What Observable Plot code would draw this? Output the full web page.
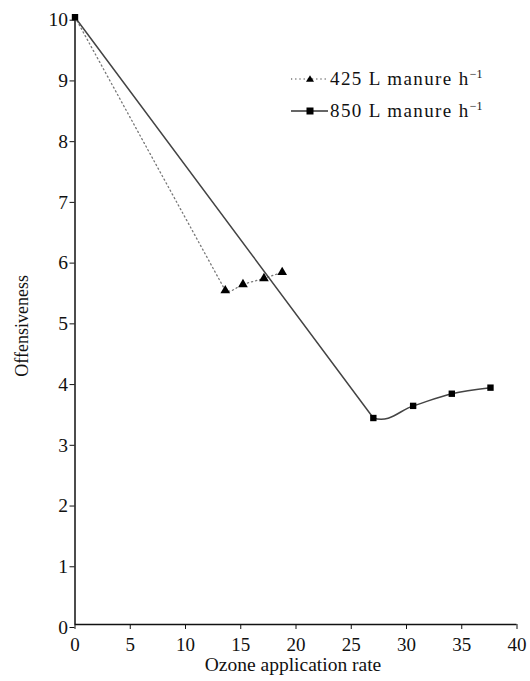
<!DOCTYPE html>
<html>
<head>
<meta charset="utf-8">
<script src="https://cdn.jsdelivr.net/npm/d3@7"></script>
<script src="https://cdn.jsdelivr.net/npm/@observablehq/plot@0.6"></script>
<style>
  html, body { margin: 0; padding: 0; background: #fff; }
  #wrap { position: relative; width: 530px; height: 681px; font-family: "Liberation Serif", "Times New Roman", serif; }
  .leg { position: absolute; left: 289px; font-size: 19px; letter-spacing: 1.4px; color: #111; display: flex; align-items: center; white-space: nowrap; }
  .leg sup { font-size: 12px; vertical-align: 7px; letter-spacing: 0; }
</style>
</head>
<body>
<div id="wrap"></div>
<script>
// Data
const rate425 = [0, 13.6, 15.2, 17.1, 18.75];
const off425  = [10, 5.5, 5.6, 5.7, 5.8];
const rate850 = [0, 27.0, 30.6, 34.1, 37.6];
const off850  = [10, 3.4, 3.6, 3.8, 3.9];
const xTicks = [0, 5, 10, 15, 20, 25, 30, 35, 40];
const yTicks = [0, 1, 2, 3, 4, 5, 6, 7, 8, 9, 10];
const seriesLabels = ["425 L manure h", "850 L manure h"];

const d425 = rate425.map((x, i) => ({x, y: off425[i]}));
const d850 = rate850.map((x, i) => ({x, y: off850[i]}));

// Smoothed line (centripetal Catmull-Rom) whose first segment is drawn straight
const straightFirst = (context) => {
  let n = 0;
  const proxy = {
    moveTo(x, y) { n = 0; context.moveTo(x, y); },
    lineTo(x, y) { n++; context.lineTo(x, y); },
    bezierCurveTo(a, b, c, d, x, y) {
      if (n++ === 0) context.lineTo(x, y);
      else context.bezierCurveTo(a, b, c, d, x, y);
    },
    closePath() { context.closePath(); }
  };
  return d3.curveCatmullRom.alpha(0.5)(proxy);
};

const chart = Plot.plot({
  width: 530,
  height: 681,
  marginLeft: 74.5,
  marginRight: 13.5,
  marginTop: 16.7,
  marginBottom: 57,
  style: { fontFamily: "Liberation Serif, Times New Roman, serif", fontSize: "19px", color: "#111", background: "#fff" },
  x: { domain: [0, 40] },
  y: { domain: [0, 10] },
  marks: [
    Plot.axisX({ ticks: xTicks, tickSize: 5, tickPadding: 8, label: null, stroke: "#111", fontSize: 19 }),
    Plot.axisY({ ticks: yTicks, tickSize: 5, tickPadding: 2, dy: 3, label: null, stroke: "#111", fontSize: 19.5 }),
    Plot.ruleY([0], { stroke: "#111", strokeWidth: 1.5 }),
    Plot.ruleX([0], { stroke: "#111", strokeWidth: 1.5 }),
    Plot.line(d425, { x: "x", y: "y", curve: straightFirst, stroke: "#777", strokeWidth: 1.3, strokeDasharray: "1.2,3" }),
    Plot.line(d850, { x: "x", y: "y", curve: straightFirst, stroke: "#444", strokeWidth: 1.5 }),
    Plot.dot(d425.slice(1), { x: "x", y: "y", symbol: "triangle", r: 3.6, fill: "#000", stroke: "none" }),
    Plot.dot(d850, { x: "x", y: "y", symbol: "square", r: 3.6, fill: "#000", stroke: "none" }),
    Plot.text(["Ozone application rate"], { frameAnchor: "bottom", textAnchor: "middle", dx: -3, dy: 46, fontSize: 19.5 }),
    Plot.text(["Offensiveness"], { frameAnchor: "left", textAnchor: "middle", dx: -53, dy: 5, rotate: -90, fontSize: 18 })
  ]
});
const wrap = document.getElementById("wrap");
wrap.appendChild(chart);

// Legend
function legendRow(top, dashed, symbol, label) {
  const row = document.createElement("div");
  row.className = "leg";
  row.style.top = top + "px";
  const svg = `<svg width="40" height="12" style="margin-right:1px">
    <line x1="2" y1="6" x2="39" y2="6" stroke="${dashed ? '#777' : '#333'}" stroke-width="1.3" ${dashed ? 'stroke-dasharray="1.2,3"' : ''}/>
    ${symbol === 'tri' ? '<path d="M21,2.2 L25,8.8 L17,8.8 Z" fill="#000"/>' : '<rect x="17.5" y="2.5" width="7" height="7" fill="#000"/>'}
  </svg>`;
  row.innerHTML = svg + `<span>${label}<sup>−1</sup></span>`;
  wrap.appendChild(row);
}
legendRow(67, true, "tri", seriesLabels[0]);
legendRow(99, false, "sq", seriesLabels[1]);
</script>
</body>
</html>
